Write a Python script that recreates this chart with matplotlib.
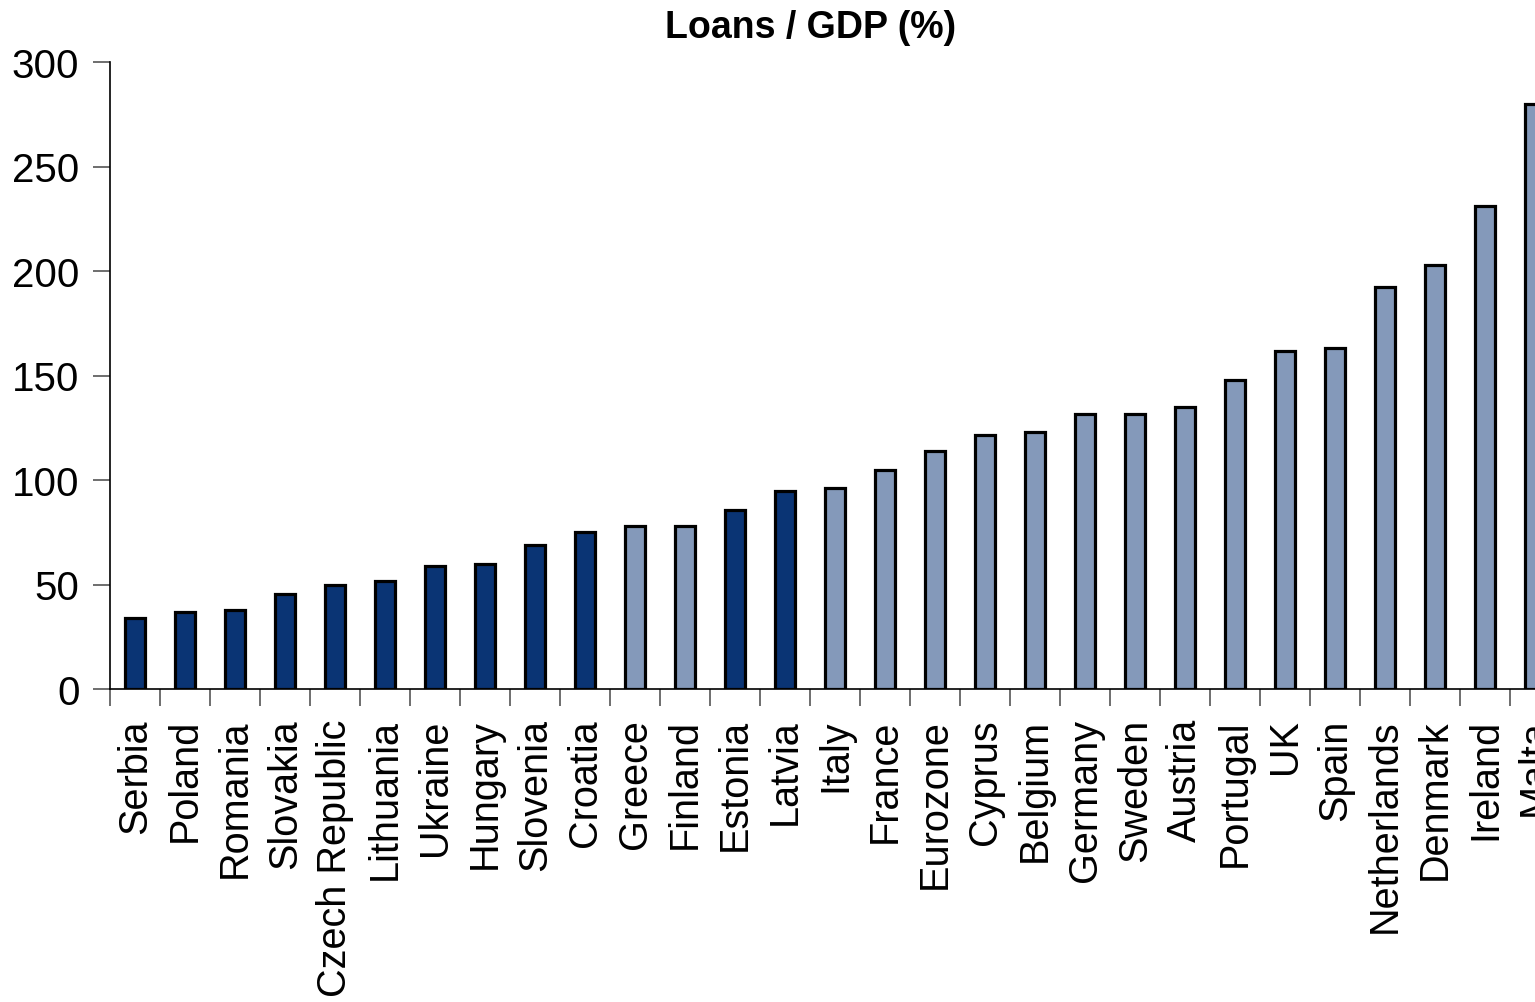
import matplotlib.pyplot as plt

countries = ["Serbia", "Poland", "Romania", "Slovakia", "Czech Republic", "Lithuania",
             "Ukraine", "Hungary", "Slovenia", "Croatia", "Greece", "Finland", "Estonia",
             "Latvia", "Italy", "France", "Eurozone", "Cyprus", "Belgium", "Germany",
             "Sweden", "Austria", "Portugal", "UK", "Spain", "Netherlands", "Denmark",
             "Ireland", "Malta"]
loans_gdp = [34, 37, 38, 45.5, 50, 51.5, 59, 60, 69, 75, 78, 78, 85.5,
             94.5, 96, 105, 114, 121.5, 123, 131.5, 131.5, 135, 148, 161.5, 163,
             192.5, 203, 231, 280]
# emerging Europe shown dark, the rest light
emerging = ["Serbia", "Poland", "Romania", "Slovakia", "Czech Republic", "Lithuania",
            "Ukraine", "Hungary", "Slovenia", "Croatia", "Estonia", "Latvia"]

DARK = "#0a3474"
LIGHT = "#8499ba"

plt.rcParams['font.family'] = ['Liberation Sans', 'DejaVu Sans']

fig = plt.figure(figsize=(15.35, 10.03), dpi=100)
ax = fig.add_axes([110 / 1535, 1 - 690 / 1003, 1450 / 1535, 627 / 1003])

colors = [DARK if c in emerging else LIGHT for c in countries]
x = range(len(countries))
ax.bar(x, loans_gdp, width=0.4, color=colors, edgecolor="black", linewidth=2.3, zorder=3)

ax.set_xlim(-0.5, len(countries) - 0.5)
ax.set_ylim(0, 300)
ax.set_yticks(range(0, 301, 50))

# category labels between the boundary ticks
ax.set_xticks(list(x))
ax.set_xticklabels(countries, rotation=90, fontsize=28.5)
ax.set_xticks([i - 0.5 for i in range(len(countries) + 1)], minor=True)
ax.tick_params(axis="x", which="major", length=0, pad=21)
ax.tick_params(axis="x", which="minor", length=12, width=1.2, color="#555555", direction="out")
ax.tick_params(axis="y", length=12, width=1.2, color="#555555", labelsize=29, pad=10)

for side in ["top", "right"]:
    ax.spines[side].set_visible(False)
ax.spines["left"].set_linewidth(1.2)
ax.spines["bottom"].set_linewidth(1.2)

fig.text(811 / 1535, 1 - 28 / 1003, "Loans / GDP (%)", ha="center", va="center",
         fontsize=27, fontweight="bold")

fig.savefig("out.png", dpi=100)
